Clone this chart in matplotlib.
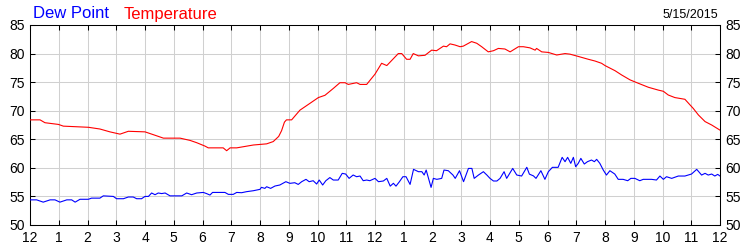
import matplotlib
matplotlib.use('Agg')
import matplotlib.pyplot as plt

# temperature readings (hours after midnight, deg F)
temp_hours = [0.0, 0.35, 0.52, 0.99, 1.16, 2.03, 2.43, 2.78, 3.13, 3.42, 4.0, 4.41,
              4.64, 5.22, 5.57, 5.8, 6.09, 6.2, 6.72, 6.84, 6.96, 7.19, 7.77, 8.23,
              8.46, 8.65, 8.75, 8.85, 8.92, 9.1, 9.39, 9.74, 10.03, 10.26, 10.55, 10.78,
              10.96, 11.07, 11.36, 11.48, 11.71, 12.0, 12.23, 12.41, 12.81, 12.93, 13.1,
              13.22, 13.33, 13.51, 13.74, 13.97, 14.14, 14.38, 14.49, 14.61, 14.78, 14.96,
              15.07, 15.36, 15.54, 15.71, 15.94, 16.12, 16.29, 16.52, 16.7, 16.99, 17.16,
              17.39, 17.57, 17.62, 17.8, 18.03, 18.32, 18.61, 18.78, 19.07, 19.42, 19.65,
              19.88, 20.0, 20.35, 20.58, 20.87, 21.16, 21.51, 21.86, 22.03, 22.2, 22.43,
              22.78, 22.96, 23.07, 23.25, 23.48, 23.71, 24.0]
temp_vals = [68.4, 68.4, 67.9, 67.6, 67.3, 67.1, 66.8, 66.3, 65.9, 66.4, 66.3, 65.6,
             65.2, 65.2, 64.8, 64.4, 63.8, 63.5, 63.5, 63.0, 63.5, 63.5, 64.0, 64.2,
             64.6, 65.5, 66.5, 68.0, 68.4, 68.4, 70.1, 71.3, 72.3, 72.7, 73.9, 74.9,
             74.9, 74.6, 74.9, 74.6, 74.6, 76.4, 78.3, 77.9, 80.0, 80.0, 79.0,
             79.0, 80.0, 79.6, 79.7, 80.6, 80.5, 81.3, 81.2, 81.7, 81.5, 81.2,
             81.3, 82.1, 81.8, 81.2, 80.3, 80.5, 80.9, 80.8, 80.3, 81.2, 81.2,
             81.0, 80.6, 80.9, 80.3, 80.2, 79.75, 80.0, 79.9, 79.5, 79.0, 78.7,
             78.3, 77.9, 77.0, 76.25, 75.4, 74.8, 74.1, 73.6, 73.4, 72.75, 72.3,
             72.0, 71.0, 70.4, 69.25, 68.1, 67.5, 66.6]

# dew point readings
dew_hours = [0.0, 0.23, 0.46, 0.7, 0.87, 1.04, 1.28, 1.45, 1.57, 1.74, 2.03, 2.14, 2.43,
             2.55, 2.9, 3.01, 3.25, 3.42, 3.59, 3.71, 3.88, 4.0, 4.12, 4.23, 4.35, 4.46,
             4.58, 4.7, 4.87, 5.28, 5.45, 5.62, 5.8,
             5.91, 6.03, 6.14, 6.26, 6.35, 6.78, 6.9, 7.07, 7.19, 7.36, 7.53, 7.77, 8.0,
             8.05, 8.17, 8.23, 8.37, 8.52, 8.69, 8.9, 9.04, 9.21, 9.33, 9.45, 9.6, 9.71,
             9.85, 9.97, 10.06, 10.18, 10.29, 10.43, 10.55, 10.72, 10.86, 10.98, 11.1,
             11.24, 11.36, 11.48, 11.59, 11.71, 11.82,
             12.0, 12.12, 12.29, 12.41, 12.53, 12.64, 12.73, 12.85, 12.97, 13.08, 13.22,
             13.34, 13.51, 13.63, 13.71, 13.78, 13.86, 13.95, 14.03, 14.15, 14.32, 14.4,
             14.55, 14.71, 14.79, 14.94, 15.08, 15.25, 15.37, 15.45, 15.6, 15.77, 15.89,
             16.0, 16.12, 16.24, 16.35, 16.49, 16.58, 16.79, 16.93, 17.1, 17.28, 17.37,
             17.51, 17.6, 17.77, 17.91,
             18.03, 18.17, 18.37, 18.51, 18.61, 18.7, 18.81, 18.9, 18.98, 19.07, 19.16,
             19.28, 19.39, 19.53, 19.63, 19.71, 19.82, 19.94, 20.05, 20.17, 20.34, 20.46,
             20.63, 20.79, 20.9, 21.04, 21.21, 21.33, 21.62, 21.79, 21.91, 22.03, 22.14,
             22.32, 22.55, 22.78, 23.01, 23.19, 23.36, 23.48, 23.59, 23.71, 23.82, 23.92,
             24.0]
dew_vals = [54.4, 54.4, 54.0, 54.4, 54.4, 54.0, 54.4, 54.4, 54.0, 54.5, 54.5, 54.7, 54.7,
            55.1, 55.0, 54.6, 54.6, 54.9, 54.9, 54.6, 54.6, 55.0, 55.0, 55.6, 55.3, 55.6,
            55.5, 55.6, 55.1, 55.1, 55.6, 55.3, 55.6,
            55.65, 55.7, 55.5, 55.24, 55.7, 55.7, 55.36, 55.36, 55.7, 55.65, 55.83, 56.0, 56.24,
            56.59, 56.41, 56.7, 56.41, 56.82, 57.0, 57.58, 57.29, 57.4, 57.1, 57.58, 57.99, 57.58,
            57.75, 57.17, 57.87, 57.0, 57.75, 58.3, 57.87, 57.87, 59.04, 58.92, 58.16,
            58.75, 58.45, 58.57, 57.75, 57.87, 57.75,
            58.16, 57.58, 57.7, 58.16, 56.8, 57.3, 56.8, 57.58, 58.45, 58.45, 57.1,
            59.74, 59.33, 59.33, 58.75, 59.62, 58.16, 56.58, 58.16, 57.99, 58.16, 59.62,
            59.5, 58.75, 58.16, 59.5, 57.58, 59.9, 59.9, 58.16, 58.75, 59.33, 58.75,
            58.16, 57.7, 57.7, 58.16, 59.33, 58.16, 59.9, 58.75, 58.57, 60.1, 58.9,
            58.6, 58.16, 59.5, 57.99,
            59.33, 60.09, 60.09, 61.84, 61.08, 61.84, 60.79, 61.84, 60.2, 60.79, 61.66,
            60.67, 61.08, 61.37, 61.08, 61.49, 60.79, 59.62, 58.74, 59.5, 58.92, 57.99,
            57.99, 57.75, 58.16, 58.16, 57.75, 57.99, 57.99, 57.87, 58.57, 57.99, 58.45,
            58.16, 58.57, 58.57, 58.92, 59.74, 58.74, 59.04, 58.74, 58.92, 58.57, 58.86,
            58.57]

hour_ticks = list(range(25))
hour_labels = ['12'] + [str(i) for i in range(1, 12)] + ['12'] + [str(i) for i in range(1, 12)] + ['12']
y_ticks = [50, 55, 60, 65, 70, 75, 80, 85]
date_label = '5/15/2015'

plt.rcParams['font.family'] = ['Liberation Sans', 'DejaVu Sans']

fig = plt.figure(figsize=(7.5, 2.5), dpi=100)
ax = fig.add_axes([0.04, 0.1, 0.92, 0.8])

ax.plot(temp_hours, temp_vals, color='#ff0000', lw=0.8, zorder=3)
ax.plot(dew_hours, dew_vals, color='#0000ff', lw=0.8, zorder=3)

ax.set_xlim(0, 24)
ax.set_ylim(50, 85)
ax.set_xticks(hour_ticks)
ax.set_xticklabels(hour_labels)
ax.set_yticks(y_ticks)
ax.grid(True, color='#d0d0d0', lw=0.75)
ax.set_axisbelow(True)

ax.tick_params(direction='in', length=3.6, width=0.75, colors='black', labelsize=10,
               top=True, right=True, labelright=True)
ax.tick_params(axis='x', pad=4)
ax.tick_params(axis='y', pad=4)
for s in ax.spines.values():
    s.set_linewidth(0.75)
    s.set_color('black')

fig.text(33 / 750, 1 - 18.5 / 250, 'Dew Point', color='#0000ff', fontsize=12, va='baseline')
fig.text(124 / 750, 1 - 18.5 / 250, 'Temperature', color='#ff0000', fontsize=12, va='baseline')
fig.text(718 / 750, 1 - 18.5 / 250, date_label, color='black', fontsize=9, va='baseline', ha='right')

fig.savefig('out.png', dpi=100)
